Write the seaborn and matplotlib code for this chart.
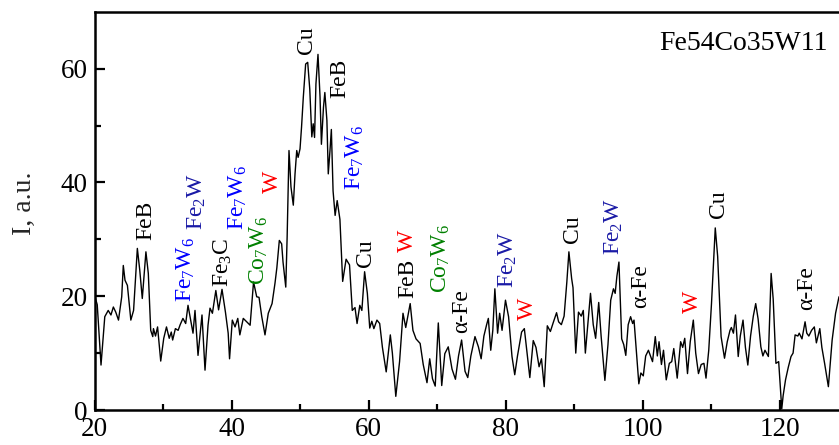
import pandas as pd
import matplotlib
matplotlib.use("Agg")
import matplotlib.pyplot as plt
import seaborn as sns

# diffraction pattern (2theta, intensity)
two_theta = [
    20.07, 20.4, 20.95, 21.5, 22.0, 22.4, 22.75, 23.1, 23.5, 23.97, 24.2, 24.45, 24.8, 25.3, 25.7,
    26.25, 26.6, 26.97, 27.5, 27.85, 28.2, 28.5, 28.6, 28.9, 29.2, 29.66, 30.1, 30.5, 30.9, 31.2,
    31.4, 31.8, 32.2, 32.5, 32.9, 33.3, 33.64, 34.0, 34.37, 34.66, 35.1, 35.68, 36.12, 36.56, 36.85,
    37.2, 37.7, 38.1, 38.6, 39.1, 39.5, 39.7, 40.1, 40.5, 40.9, 41.2, 41.7, 42.2, 42.7, 43.2,
    43.66, 44.0, 44.4, 44.87, 45.35, 45.9, 46.33, 46.6, 46.96, 47.3, 47.5, 47.9, 48.1, 48.37, 48.66,
    49.0, 49.25, 49.5, 49.7, 49.98, 50.2, 50.46, 50.8, 51.1, 51.4, 51.7, 51.9, 52.1, 52.3, 52.6,
    52.9, 53.1, 53.4, 53.6, 53.9, 54.1, 54.35, 54.55, 54.8, 55.1, 55.4, 55.8, 56.2, 56.7, 57.2,
    57.6, 58.0, 58.3, 58.7, 59.0, 59.4, 59.8, 60.15, 60.45, 60.75, 61.2, 61.6, 62.0, 62.55, 63.15,
    63.45, 63.95, 64.5, 65.0, 65.4, 66.05, 66.45, 66.9, 67.5, 67.95, 68.5, 68.9, 69.3, 69.7, 70.15,
    70.65, 71.1, 71.6, 72.15, 72.65, 73.1, 73.55, 74.05, 74.45, 74.9, 75.5, 76.0, 76.4, 76.8, 77.2,
    77.45, 77.8, 78.1, 78.4, 78.8, 79.1, 79.45, 79.95, 80.4, 80.9, 81.3, 81.7, 82.3, 82.7, 83.0,
    83.5, 84.0, 84.4, 84.85, 85.2, 85.6, 86.05, 86.5, 86.9, 87.4, 87.7, 88.1, 88.5, 88.9, 89.2,
    89.6, 89.8, 90.2, 90.6, 91.0, 91.3, 91.6, 92.0, 92.35, 92.75, 93.1, 93.55, 93.9, 94.45, 94.9,
    95.3, 95.7, 95.95, 96.2, 96.5, 96.9, 97.2, 97.5, 97.85, 98.2, 98.5, 98.7, 99.0, 99.4, 99.7,
    100.05, 100.4, 100.8, 101.1, 101.4, 101.8, 102.1, 102.35, 102.7, 103.0, 103.4, 103.85, 104.2, 104.5, 105.0,
    105.5, 105.8, 106.1, 106.5, 106.9, 107.35, 107.7, 108.1, 108.5, 108.9, 109.2, 109.6, 110.0, 110.55, 110.9,
    111.4, 111.9, 112.3, 112.7, 112.9, 113.2, 113.5, 113.9, 114.2, 114.6, 114.95, 115.3, 115.7, 116.1, 116.45,
    116.8, 117.2, 117.5, 117.8, 118.3, 118.7, 119.0, 119.4, 119.8, 120.25, 120.45, 120.8, 121.2, 121.6, 121.9,
    122.2, 122.6, 122.8, 123.2, 123.65, 123.9, 124.2, 124.6, 125.0, 125.3, 125.8, 126.1, 126.5, 127.05, 127.6,
    128.1, 128.6,
]
intensity = [
    19.9, 18.5, 7.9, 16.4, 17.5, 16.7, 18.1, 17.2, 15.8, 19.9, 25.4, 22.8, 21.9, 15.8, 17.5,
    28.4, 24.6, 19.6, 27.8, 24.0, 14.0, 12.9, 14.3, 13.0, 14.6, 8.6, 12.6, 14.6, 12.6, 13.7,
    12.3, 14.3, 14.0, 15.0, 16.1, 15.2, 18.4, 16.0, 13.5, 17.5, 9.6, 16.7, 7.0, 14.9, 17.9,
    17.0, 21.0, 17.6, 21.2, 17.2, 13.5, 9.0, 15.8, 14.6, 16.1, 13.2, 16.1, 15.5, 14.9, 22.5,
    19.9, 19.8, 16.4, 13.2, 17.0, 18.7, 22.3, 25.0, 29.8, 29.2, 26.0, 21.6, 30.4, 45.6, 39.2,
    36.0, 41.5, 45.6, 44.4, 45.9, 49.7, 55.0, 60.8, 61.1, 56.4, 48.0, 50.3, 47.9, 57.3, 62.5,
    55.0, 46.7, 53.2, 55.8, 50.9, 41.5, 45.6, 49.3, 38.5, 34.2, 36.8, 33.5, 22.6, 26.5, 25.5,
    17.5, 18.0, 15.2, 18.4, 17.5, 24.3, 20.5, 14.4, 15.6, 14.3, 15.8, 15.2, 11.0, 6.7, 13.2,
    10.0, 2.4, 8.5, 17.0, 14.5, 18.7, 14.0, 12.5, 11.7, 8.0, 4.8, 9.0, 5.5, 4.2, 15.3,
    4.3, 9.9, 11.1, 7.2, 5.4, 9.5, 12.3, 6.8, 5.7, 9.5, 12.9, 11.1, 9.0, 13.0, 15.0,
    16.1, 10.5, 14.0, 21.3, 13.5, 17.0, 14.0, 19.3, 16.4, 9.4, 6.2, 9.5, 13.7, 14.3, 11.1,
    5.7, 12.2, 11.0, 7.6, 9.0, 4.1, 14.8, 13.8, 15.3, 17.1, 15.5, 15.0, 16.5, 22.5, 27.8,
    23.1, 21.5, 10.0, 17.2, 16.5, 17.5, 10.0, 15.5, 20.5, 15.0, 12.6, 18.9, 13.0, 5.2, 11.5,
    19.3, 21.3, 20.5, 23.5, 26.0, 12.5, 11.5, 9.6, 15.0, 16.4, 15.2, 15.8, 11.0, 4.6, 6.5,
    6.0, 9.5, 10.5, 9.5, 8.5, 12.9, 9.5, 12.0, 8.0, 10.5, 5.3, 8.2, 8.5, 10.8, 5.6,
    12.0, 11.0, 12.6, 6.4, 12.0, 15.8, 10.0, 6.4, 8.0, 8.2, 5.6, 10.5, 18.7, 32.0, 27.0,
    12.9, 9.1, 12.0, 14.0, 14.5, 13.5, 16.7, 9.4, 13.0, 15.8, 11.0, 7.9, 13.0, 16.5, 18.7,
    16.0, 11.1, 9.5, 10.5, 9.4, 24.0, 19.5, 8.2, 8.5, 0.2, 2.5, 5.3, 7.5, 9.4, 10.0,
    13.2, 13.0, 13.5, 12.5, 15.5, 13.5, 13.0, 14.0, 14.6, 11.8, 14.3, 11.0, 8.2, 4.1, 12.3,
    17.0, 19.9,
]

# phase labels: text, colour, x, y (bottom of the vertical label)
label_text = ["FeB", r"Fe$_7$W$_6$", r"Fe$_2$W", r"Fe$_3$C", r"Fe$_7$W$_6$", r"Co$_7$W$_6$", "W",
              "Cu", "FeB", r"Fe$_7$W$_6$", "Cu", "FeB", "W", r"Co$_7$W$_6$", "α-Fe",
              r"Fe$_2$W", "W", "Cu", r"Fe$_2$W", "α-Fe", "W", "Cu", "α-Fe"]
label_color = ["black", "#0000ff", "#1a1aa6", "black", "#0000ff", "#008000", "#ff0000",
               "black", "black", "#0000ff", "black", "black", "#ff0000", "#008000", "black",
               "#1a1aa6", "#ff0000", "black", "#1a1aa6", "black", "#ff0000", "black", "black"]
label_x = [27.5, 33.35, 34.95, 38.75, 40.9, 44.0, 45.9,
           50.9, 55.8, 58.0, 59.6, 65.7, 65.7, 70.5, 73.6,
           80.3, 83.1, 89.7, 95.8, 99.6, 107.2, 111.0, 123.9]
label_y = [29.8, 18.9, 31.6, 21.6, 31.6, 22.0, 38.1,
           62.6, 54.9, 38.6, 25.1, 19.6, 27.7, 20.5, 13.5,
           21.4, 15.8, 29.3, 27.2, 17.9, 17.0, 33.7, 17.5]

sns.set_theme(style="ticks")
plt.rcParams["font.family"] = ["Liberation Serif", "DejaVu Serif"]
plt.rcParams["mathtext.default"] = "regular"

df = pd.DataFrame({"two_theta": two_theta, "intensity": intensity})

fig = plt.figure(figsize=(8.39, 4.45), dpi=100)
ax = fig.add_axes([94.5 / 839, 35 / 445, 1 - 94.5 / 839, 398.3 / 445])

sns.lineplot(data=df, x="two_theta", y="intensity", color="black", linewidth=1.0,
             sort=False, ax=ax)

for t, c, x, y in zip(label_text, label_color, label_x, label_y):
    ax.text(x, y, t, color=c, fontsize=17, rotation=90, ha="center", va="bottom")

ax.text(127.0, 63.2, "Fe54Co35W11", fontsize=20, color="black", ha="right", va="baseline")

ax.set_xlim(20, 128.6)
ax.set_ylim(0, 70)
ax.set_xticks([20, 40, 60, 80, 100, 120])
ax.set_xticks([30, 50, 70, 90, 110], minor=True)
ax.set_yticks([0, 20, 40, 60])
ax.set_yticks([10, 30, 50], minor=True)
ax.tick_params(which="both", direction="in", width=1.6, top=False, right=False,
               labelsize=19.5, colors="black")
ax.tick_params(which="major", length=7, pad=5)
ax.tick_params(which="minor", length=4.5)
ax.set_xlabel("")
ax.set_ylabel("I, a.u.", fontsize=20)
ax.yaxis.set_label_coords(-0.078, 0.518)

for side in ["left", "bottom", "top"]:
    ax.spines[side].set_linewidth(1.8)
    ax.spines[side].set_color("black")
ax.spines["right"].set_visible(False)

fig.savefig("out.png", dpi=100)
